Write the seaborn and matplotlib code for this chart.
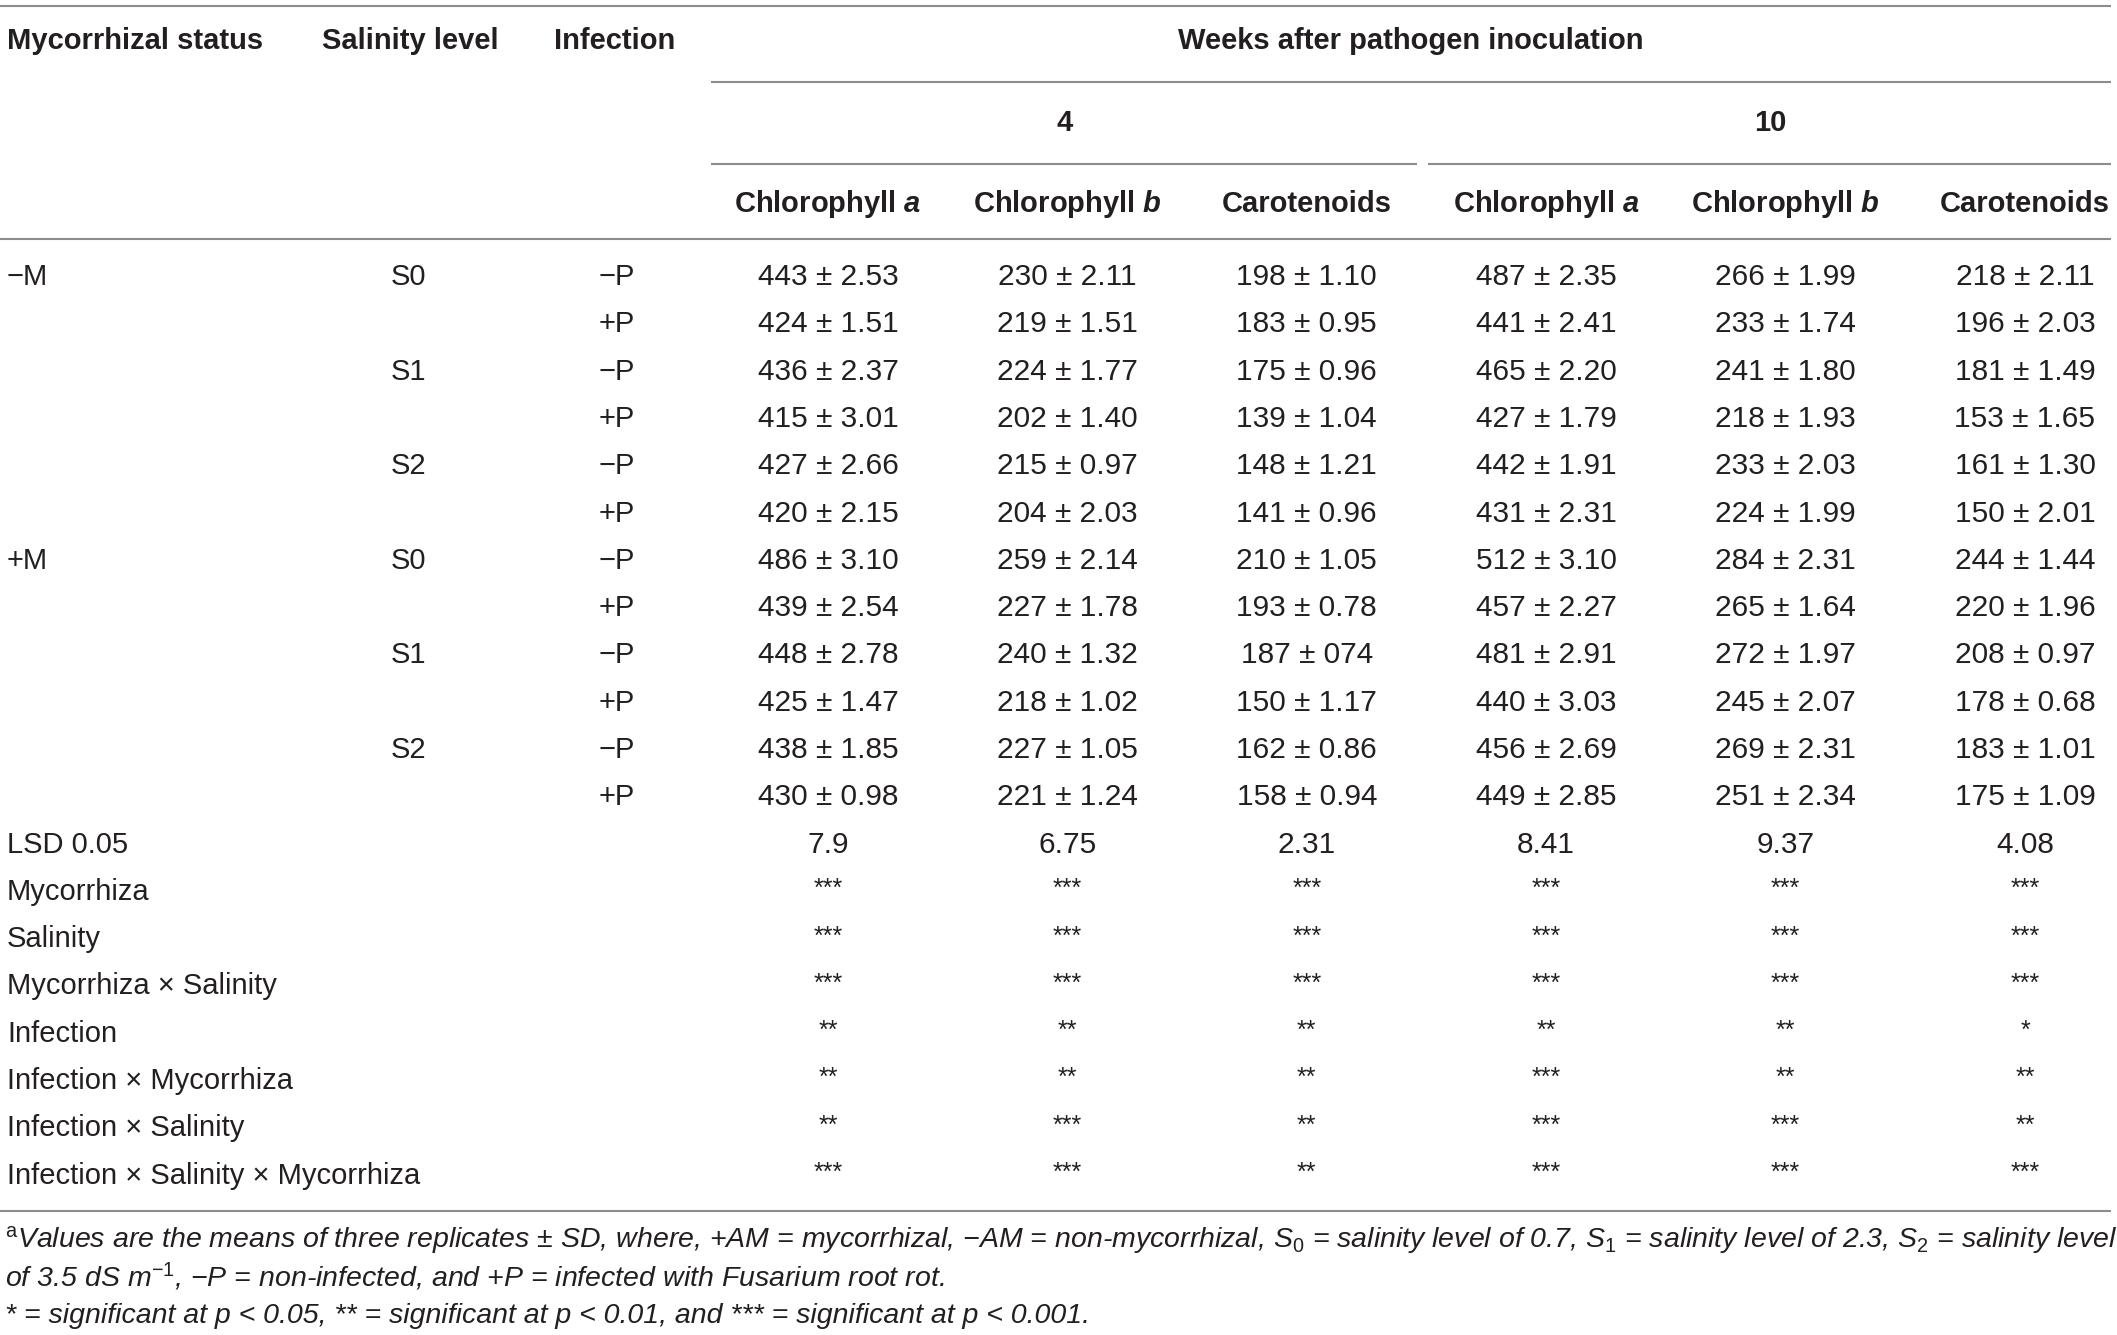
import numpy as np
import pandas as pd
import matplotlib
matplotlib.use("Agg")
import matplotlib.pyplot as plt
from matplotlib.colors import ListedColormap
import seaborn as sns

# Table values (mean, SD as printed)
treatments_m = ["\u2212M"] * 6 + ["+M"] * 6
treatments_s = ["S0", "S0", "S1", "S1", "S2", "S2"] * 2
treatments_p = ["\u2212P", "+P"] * 6

chl_a_4 = [443, 424, 436, 415, 427, 420, 486, 439, 448, 425, 438, 430]
chl_a_4_sd = ["2.53", "1.51", "2.37", "3.01", "2.66", "2.15", "3.10", "2.54", "2.78", "1.47", "1.85", "0.98"]
chl_b_4 = [230, 219, 224, 202, 215, 204, 259, 227, 240, 218, 227, 221]
chl_b_4_sd = ["2.11", "1.51", "1.77", "1.40", "0.97", "2.03", "2.14", "1.78", "1.32", "1.02", "1.05", "1.24"]
car_4 = [198, 183, 175, 139, 148, 141, 210, 193, 187, 150, 162, 158]
car_4_sd = ["1.10", "0.95", "0.96", "1.04", "1.21", "0.96", "1.05", "0.78", "074", "1.17", "0.86", "0.94"]
chl_a_10 = [487, 441, 465, 427, 442, 431, 512, 457, 481, 440, 456, 449]
chl_a_10_sd = ["2.35", "2.41", "2.20", "1.79", "1.91", "2.31", "3.10", "2.27", "2.91", "3.03", "2.69", "2.85"]
chl_b_10 = [266, 233, 241, 218, 233, 224, 284, 265, 272, 245, 269, 251]
chl_b_10_sd = ["1.99", "1.74", "1.80", "1.93", "2.03", "1.99", "2.31", "1.64", "1.97", "2.07", "2.31", "2.34"]
car_10 = [218, 196, 181, 153, 161, 150, 244, 220, 208, 178, 183, 175]
car_10_sd = ["2.11", "2.03", "1.49", "1.65", "1.30", "2.01", "1.44", "1.96", "0.97", "0.68", "1.01", "1.09"]

lsd = ["7.9", "6.75", "2.31", "8.41", "9.37", "4.08"]

effects = ["Mycorrhiza", "Salinity", "Mycorrhiza \u00d7 Salinity", "Infection",
           "Infection \u00d7 Mycorrhiza", "Infection \u00d7 Salinity",
           "Infection \u00d7 Salinity \u00d7 Mycorrhiza"]
sig_mycorrhiza = [3, 3, 3, 3, 3, 3]
sig_salinity = [3, 3, 3, 3, 3, 3]
sig_myc_sal = [3, 3, 3, 3, 3, 3]
sig_infection = [2, 2, 2, 2, 2, 1]
sig_inf_myc = [2, 2, 2, 3, 2, 2]
sig_inf_sal = [2, 3, 2, 3, 3, 2]
sig_inf_sal_myc = [3, 3, 2, 3, 3, 3]

weeks = ["4", "10"]
pigments = ["Chlorophyll $\\mathbf{a}$", "Chlorophyll $\\mathbf{b}$", "Carotenoids"]

footnote_1 = ("$^{\\mathrm{a}}$Values are the means of three replicates \u00b1 SD, where, +AM = mycorrhizal, "
              "\u2212AM = non-mycorrhizal, S$_{0}$ = salinity level of 0.7, S$_{1}$ = salinity level of 2.3, "
              "S$_{2}$ = salinity level")
footnote_2 = "of 3.5 dS m$^{\u22121}$, \u2212P = non-infected, and +P = infected with Fusarium root rot."
footnote_3 = "* = significant at p < 0.05, ** = significant at p < 0.01, and *** = significant at p < 0.001."

# Build the body table
mean_cols = [chl_a_4, chl_b_4, car_4, chl_a_10, chl_b_10, car_10]
sd_cols = [chl_a_4_sd, chl_b_4_sd, car_4_sd, chl_a_10_sd, chl_b_10_sd, car_10_sd]
sig_rows = [sig_mycorrhiza, sig_salinity, sig_myc_sal, sig_infection,
            sig_inf_myc, sig_inf_sal, sig_inf_sal_myc]

labels = []
values = []
for i in range(len(chl_a_4)):
    labels.append([f"{m[i]} \u00b1 {s[i]}" for m, s in zip(mean_cols, sd_cols)])
    values.append([m[i] for m in mean_cols])
labels.append(lsd)
values.append([float(v) for v in lsd])
for r in sig_rows:
    labels.append(["*" * n for n in r])
    values.append(r)

body = pd.DataFrame(values)
annot = np.array(labels)
n_rows = len(labels)

# Style
sns.set_theme(style="white")
plt.rcParams["font.family"] = ["Liberation Sans", "DejaVu Sans"]
plt.rcParams["mathtext.fontset"] = "custom"
plt.rcParams["mathtext.rm"] = "Liberation Sans"
plt.rcParams["mathtext.it"] = "Liberation Sans:italic"
plt.rcParams["mathtext.bf"] = "Liberation Sans:italic:bold"
plt.rcParams["mathtext.sf"] = "Liberation Sans"

TXT = "#231f20"
LINE = "#8c8c8c"
W, H = 2117, 1335

# layout (pixels)
row0, row_h = 277, 47.3
col0, col_w = 828, 239.4
week_x = [1065, 1770]
lab_x, sal_x, inf_x = 7, 408, 617

fig = plt.figure(figsize=(W / 100, H / 100), dpi=100)
ax = fig.add_axes([0, 0, 1, 1])
ax.set_xlim(0, W)
ax.set_ylim(H, 0)
ax.set_axis_off()

# Body as a blank heatmap with annotations
top = row0 - row_h / 2
left = col0 - col_w / 2
hax = fig.add_axes([left / W, 1 - (top + n_rows * row_h) / H,
                    6 * col_w / W, n_rows * row_h / H])
sns.heatmap(body, ax=hax, annot=annot, fmt="", cbar=False,
            cmap=ListedColormap(["white"]), linewidths=0,
            annot_kws={"fontsize": 21.5, "color": TXT})
hax.set_axis_off()
for t in hax.texts:
    if t.get_text().startswith("*"):
        t.set_fontsize(18)
        x, y = t.get_position()
        t.set_position((x, y - 0.06))

# Rules
ax.hlines([5.5, 239, 1211], 0, 2111, color=LINE, lw=1.5)
ax.hlines(82, 711, 2111, color=LINE, lw=1.5)
ax.hlines(164, 711, 1417, color=LINE, lw=1.5)
ax.hlines(164, 1428, 2111, color=LINE, lw=1.5)

# Header
hdr = dict(fontsize=21, fontweight="bold", color=TXT, va="center")
ax.text(lab_x, 41, "Mycorrhizal status", ha="left", **hdr)
ax.text(322, 41, "Salinity level", ha="left", **hdr)
ax.text(554, 41, "Infection", ha="left", **hdr)
ax.text(1411, 41, "Weeks after pathogen inoculation", ha="center", **hdr)
for k, wk in enumerate(weeks):
    ax.text(week_x[k], 123, wk, ha="center", **hdr)
    for j, pig in enumerate(pigments):
        ax.text(col0 + col_w * (3 * k + j), 204, pig, ha="center", **hdr)

# Row labels
cell = dict(fontsize=21, color=TXT, va="center")
for i in range(len(treatments_m)):
    y = row0 + i * row_h
    if i % 6 == 0:
        ax.text(lab_x, y, treatments_m[i], ha="left", **cell)
    if i % 2 == 0:
        ax.text(sal_x, y, treatments_s[i], ha="center", **cell)
    ax.text(inf_x, y, treatments_p[i], ha="center", **cell)
ax.text(lab_x, row0 + 12 * row_h, "LSD 0.05", ha="left", **cell)
for i, name in enumerate(effects):
    ax.text(lab_x, row0 + (13 + i) * row_h, name, ha="left", **cell)

# Footnotes
foot = dict(fontsize=20.5, style="italic", color=TXT, va="center", ha="left")
ax.text(5, 1240, footnote_1, **foot)
ax.text(5, 1277, footnote_2, **foot)
ax.text(5, 1316, footnote_3, **foot)

fig.savefig("out.png", dpi=100)
